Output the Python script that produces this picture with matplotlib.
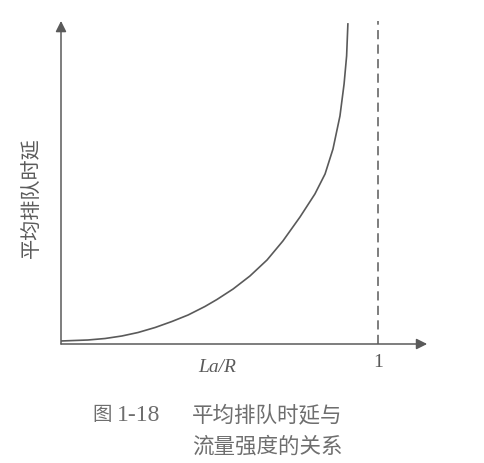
import matplotlib.pyplot as plt

# utilization La/R and average queuing delay (arbitrary units)
load = [0.0, 0.085, 0.139, 0.192, 0.243, 0.297, 0.350, 0.401, 0.454, 0.492, 0.543,
        0.596, 0.650, 0.700, 0.754, 0.801, 0.833, 0.858, 0.880, 0.893, 0.901, 0.905]
delay = [0.093, 0.124, 0.170, 0.248, 0.356, 0.511, 0.697, 0.898, 1.161, 1.378, 1.703,
         2.105, 2.601, 3.189, 3.932, 4.644, 5.263, 6.037, 7.059, 8.050, 8.916, 9.907]
x_tick = 1
x_label = "La/R"
y_label = "平均排队时延"
caption_no = ["图", "1-18"]
caption = ["平均排队时延与", "流量强度的关系"]

W, H = 484, 464
col = "#5a5a5a"
fig = plt.figure(figsize=(W / 100, H / 100), dpi=100)

# axes placed so that x=0 sits at pixel 61 and x=1 at pixel 378, y axis from 345 up to 20
x0, x1px = 61, 378
ybot, ytop = 345, 20
xmax = (432 - x0) / (x1px - x0)
ax = fig.add_axes([x0 / W, (H - ybot) / H, (432 - x0) / W, (ybot - ytop) / H])
ax.set_xlim(0, xmax)
ax.set_ylim(0, 10.06)
ax.axis("off")

arrow = dict(arrowstyle="-|>", color=col, lw=1.1, mutation_scale=16, shrinkA=0, shrinkB=0)
ax.annotate("", xy=(1.155, 0), xytext=(0, 0), arrowprops=arrow, annotation_clip=False)
ax.annotate("", xy=(0, 10.0), xytext=(0, 0), arrowprops=arrow, annotation_clip=False)

ax.plot(load, delay, color=col, lw=1.2, solid_joinstyle="round")
ax.plot([x_tick, x_tick], [0, 10.0], color=col, lw=1.1, dashes=(6, 3.5))

ax.text(x_tick, -0.53, "1", ha="center", va="center", fontsize=14, color=col,
        family="Liberation Serif")
ax.text((217 - x0) / (x1px - x0), -0.71, x_label, ha="center", va="center", fontsize=14,
        color=col, family="Liberation Serif", style="italic")

fig.text(32 / W, 1 - 198 / H, y_label, rotation=90, ha="center", va="center",
         fontsize=14.5, color=col, family=["Noto Sans CJK SC", "DejaVu Sans"])

cjk = ["Noto Sans CJK SC", "DejaVu Sans"]
cap = dict(fontsize=15.5, color="#6e6e6e", va="center")
fig.text(92 / W, 1 - 415 / H, caption_no[0], ha="left", family=cjk, fontsize=14,
         color="#6e6e6e", va="center")
fig.text(117 / W, 1 - 416 / H, caption_no[1], ha="left", family="Liberation Serif",
         fontsize=17, color="#6e6e6e", va="center")
fig.text(192 / W, 1 - 415 / H, caption[0], ha="left", family=cjk, **cap)
fig.text(192 / W, 1 - 447 / H, caption[1], ha="left", family=cjk, **cap)

fig.savefig("out.png", dpi=100, facecolor="white")
